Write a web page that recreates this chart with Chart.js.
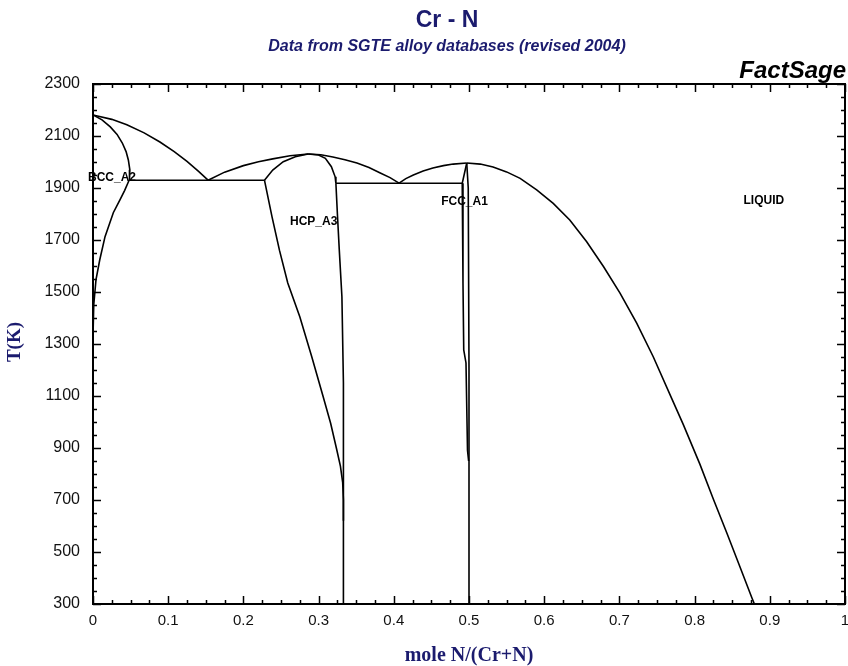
<!DOCTYPE html>
<html>
<head>
<meta charset="utf-8">
<title>Cr - N</title>
<script src="https://cdn.jsdelivr.net/npm/chart.js@4"></script>
<style>
  html, body { margin: 0; padding: 0; background: #fff; }
  #wrap { width: 848px; height: 666px; }
</style>
</head>
<body>
<div id="wrap"><canvas id="phaseChart" width="848" height="666"></canvas></div>
<script>
// Cr-N phase diagram: [mole N/(Cr+N), T(K)]
const liquidusBcc   = [[0, 2181], [0.025, 2164], [0.045, 2143], [0.068, 2112], [0.089, 2077], [0.108, 2040], [0.125, 2002], [0.140, 1965], [0.153, 1930]];
const solidusBcc    = [[0, 2181], [0.012, 2162], [0.023, 2135], [0.032, 2106], [0.039, 2073], [0.044, 2040], [0.047, 2008], [0.049, 1970], [0.049, 1950], [0.048, 1930]];
const solvusBcc     = [[0.048, 1930], [0.042, 1890], [0.036, 1855], [0.027, 1805], [0.016, 1713], [0.009, 1624], [0.004, 1548], [0.001, 1450], [0, 1330]];
const eutecticBcc   = [[0.048, 1930], [0.228, 1930]];
const liquidusHcpL  = [[0.153, 1930], [0.175, 1961], [0.2, 1986], [0.22, 2001], [0.239, 2012], [0.262, 2024], [0.286, 2031]];
const liquidusHcpR  = [[0.286, 2031], [0.303, 2028], [0.319, 2019], [0.335, 2009], [0.351, 1996], [0.367, 1979], [0.382, 1958], [0.395, 1940], [0.407, 1919]];
const solidusHcpL   = [[0.228, 1930], [0.239, 1969], [0.253, 2001], [0.269, 2020], [0.286, 2031]];
const solidusHcpR   = [[0.286, 2031], [0.300, 2027], [0.309, 2014], [0.317, 1982], [0.322, 1943], [0.323, 1918]];
const eutecticHcp   = [[0.323, 1918], [0.491, 1918]];
const hcpLowerLeft  = [[0.228, 1930], [0.238, 1790], [0.248, 1660], [0.259, 1535], [0.275, 1405], [0.291, 1250], [0.306, 1098], [0.316, 995], [0.324, 895], [0.329, 830], [0.332, 768], [0.333, 700], [0.333, 620]];
const hcpLowerRight = [[0.323, 1918], [0.325, 1800], [0.3275, 1662], [0.331, 1482], [0.333, 1150], [0.333, 300]];
const fccLeft       = [[0.497, 1996], [0.491, 1918], [0.492, 1535], [0.493, 1277], [0.496, 1227], [0.498, 892], [0.4995, 850]];
const fccRight      = [[0.497, 1996], [0.499, 1900], [0.5, 1200], [0.5, 300]];
const liquidusFccL  = [[0.407, 1919], [0.416, 1936], [0.426, 1950], [0.439, 1965], [0.452, 1977], [0.466, 1986], [0.479, 1992], [0.497, 1996]];
const liquidusFccR  = [[0.497, 1996], [0.515, 1992], [0.532, 1981], [0.550, 1962], [0.568, 1937], [0.590, 1893], [0.612, 1841],
                       [0.634, 1777], [0.6565, 1693], [0.679, 1597], [0.701, 1495], [0.723, 1380], [0.745, 1251],
                       [0.7695, 1091], [0.785, 990], [0.807, 838], [0.825, 703], [0.843, 572], [0.860, 445], [0.876, 325], [0.8795, 300]];

const curves = [liquidusBcc, solidusBcc, solvusBcc, eutecticBcc, liquidusHcpL, liquidusHcpR, solidusHcpL,
                solidusHcpR, eutecticHcp, hcpLowerLeft, hcpLowerRight, fccLeft, fccRight, liquidusFccL, liquidusFccR];

// phase labels: [text, x, T]
const phaseLabels = [['BCC_A2', 0, 1938], ['HCP_A3', 0.262, 1772], ['FCC_A1', 0.463, 1847], ['LIQUID', 0.865, 1850]];

const xMin = 0, xMax = 1, xStep = 0.1, xMinor = 0.025;
const yMin = 300, yMax = 2300, yStep = 200, yMinor = 50;

const navy = '#1b1b6e';

const framePlugin = {
    id: 'frame',
    beforeDatasetsDraw(chart) {
        const ctx = chart.ctx, xs = chart.scales.x, ys = chart.scales.y;
        ctx.save();
        ctx.fillStyle = '#000';
        ctx.font = 'bold 12px "Liberation Sans", Arial, sans-serif';
        ctx.textBaseline = 'middle';
        ctx.textAlign = 'left';
        phaseLabels.forEach(l => {
            let px = xs.getPixelForValue(l[1]);
            if (l[1] === 0) px -= 5;
            ctx.fillText(l[0], px, ys.getPixelForValue(l[2]));
        });
        ctx.restore();
    },
    afterDraw(chart) {
        const ctx = chart.ctx, a = chart.chartArea, xs = chart.scales.x, ys = chart.scales.y;
        ctx.save();
        ctx.strokeStyle = '#000';
        ctx.lineWidth = 2;
        ctx.strokeRect(a.left, a.top, a.right - a.left, a.bottom - a.top);

        // inward ticks on all four sides
        ctx.lineWidth = 1.5;
        ctx.beginPath();
        for (let v = xMin; v <= xMax + 1e-9; v += xMinor) {
            const major = Math.abs(v / xStep - Math.round(v / xStep)) < 1e-6;
            const len = major ? 8 : 4;
            const px = Math.round(xs.getPixelForValue(v)) + 0.5;
            ctx.moveTo(px, a.bottom); ctx.lineTo(px, a.bottom - len);
            ctx.moveTo(px, a.top); ctx.lineTo(px, a.top + len);
        }
        for (let v = yMin; v <= yMax; v += yMinor) {
            const len = (v - yMin) % yStep === 0 ? 8 : 4;
            const py = Math.round(ys.getPixelForValue(v)) + 0.5;
            ctx.moveTo(a.left, py); ctx.lineTo(a.left + len, py);
            ctx.moveTo(a.right, py); ctx.lineTo(a.right - len, py);
        }
        ctx.stroke();

        // titles
        ctx.textAlign = 'center';
        ctx.textBaseline = 'alphabetic';
        ctx.fillStyle = navy;
        ctx.font = 'bold 23px "Liberation Sans", Arial, sans-serif';
        ctx.fillText('Cr - N', 447, 27);
        ctx.font = 'italic bold 16px "Liberation Sans", Arial, sans-serif';
        ctx.fillText('Data from SGTE alloy databases (revised 2004)', 447, 51);
        ctx.fillStyle = '#000';
        ctx.textAlign = 'right';
        ctx.font = 'italic bold 24px "Liberation Sans", Arial, sans-serif';
        ctx.fillText('FactSage', 846, 78);

        // axis titles
        ctx.fillStyle = navy;
        ctx.textAlign = 'center';
        ctx.font = 'bold 20px "Liberation Serif", "Times New Roman", serif';
        ctx.fillText('mole N/(Cr+N)', 469, 661);
        ctx.save();
        ctx.translate(20, 342);
        ctx.rotate(-Math.PI / 2);
        ctx.font = 'bold 19px "Liberation Serif", "Times New Roman", serif';
        ctx.fillText('T(K)', 0, 0);
        ctx.restore();
        ctx.restore();
    }
};

new Chart(document.getElementById('phaseChart'), {
    type: 'scatter',
    data: {
        datasets: curves.map(c => ({
            data: c.map(p => ({ x: p[0], y: p[1] })),
            showLine: true,
            borderColor: '#000',
            borderWidth: 1.6,
            pointRadius: 0,
            tension: 0,
            fill: false
        }))
    },
    options: {
        responsive: false,
        animation: false,
        layout: { padding: { top: 84, right: 3, left: 0, bottom: 0 } },
        plugins: {
            legend: { display: false },
            tooltip: { enabled: false },
            title: { display: false }
        },
        scales: {
            x: {
                type: 'linear',
                min: xMin, max: xMax,
                grid: { display: false, drawTicks: false },
                border: { display: false },
                ticks: {
                    stepSize: xStep,
                    padding: 8,
                    color: '#111',
                    font: { family: '"Liberation Sans", Arial, sans-serif', size: 15 },
                    maxRotation: 0,
                    callback: v => String(Math.round(v * 10) / 10)
                },
                afterFit(s) { s.height = 62; s.paddingLeft = 0; s.paddingRight = 0; }
            },
            y: {
                type: 'linear',
                min: yMin, max: yMax,
                grid: { display: false, drawTicks: false },
                border: { display: false },
                ticks: {
                    stepSize: yStep,
                    padding: 13,
                    color: '#111',
                    font: { family: '"Liberation Sans", Arial, sans-serif', size: 16 },
                    callback: v => String(v)
                },
                afterFit(s) { s.width = 93; s.paddingTop = 0; s.paddingBottom = 0; }
            }
        }
    },
    plugins: [framePlugin]
});
</script>
</body>
</html>
